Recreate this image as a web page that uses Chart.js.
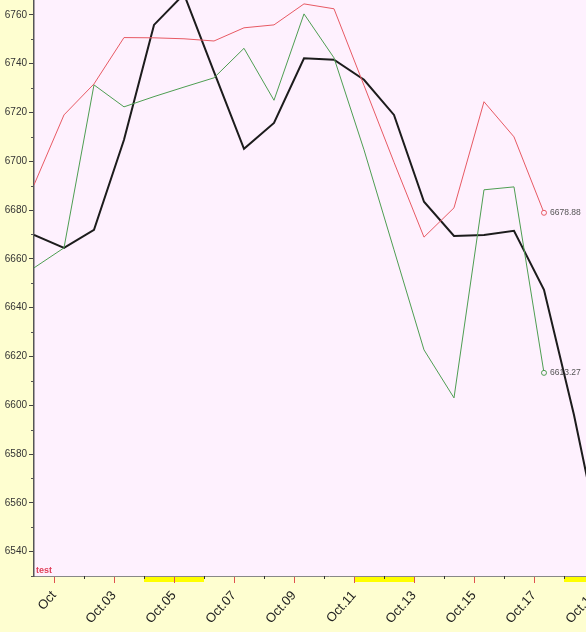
<!DOCTYPE html>
<html>
<head>
<meta charset="utf-8">
<script src="https://cdn.jsdelivr.net/npm/chart.js@4.4.1/dist/chart.umd.min.js"></script>
<style>
  html, body { margin: 0; padding: 0; overflow: hidden; background: #fefed0; width: 586px; height: 632px; }
  canvas { display: block; }
</style>
</head>
<body>
<canvas id="chart" width="624" height="632"></canvas>
<script>
// x positions in days of October (point i sits at day i + 1/3)
const xDays = [0.333, 1.333, 2.333, 3.333, 4.333, 5.333, 6.333, 7.333, 8.333, 9.333,
               10.333, 11.333, 12.333, 13.333, 14.333, 15.333, 16.333, 17.333, 18.333, 19.333];

const redValues   = [6690.3, 6719.0, 6731.7, 6750.7, 6750.6, 6750.2, 6749.3, 6754.7, 6755.9, 6764.5,
                     6762.5, 6731.1, 6699.6, 6668.9, 6680.9, 6724.4, 6710.0, 6678.88];
const greenValues = [6656.3, 6664.5, 6731.3, 6722.3, 6726.5, 6730.4, 6734.2, 6746.3, 6725.0, 6760.4,
                     6742.4, 6704.7, 6663.7, 6622.7, 6603.0, 6688.3, 6689.5, 6613.27];
const blackValues = [6669.8, 6664.5, 6671.9, 6708.8, 6755.9, 6768.5, 6736.6, 6705.1, 6715.7, 6742.2,
                     6741.6, 6733.4, 6719.0, 6683.4, 6669.4, 6669.8, 6671.5, 6647.3, 6596.0, 6537.0];

const xTickDays   = [1, 2, 3, 4, 5, 6, 7, 8, 9, 10, 11, 12, 13, 14, 15, 16, 17, 18, 19, 20];
const xTickLabels = ['Oct', '', 'Oct.03', '', 'Oct.05', '', 'Oct.07', '', 'Oct.09', '', 'Oct.11', '',
                     'Oct.13', '', 'Oct.15', '', 'Oct.17', '', 'Oct.19', ''];
const yTickValues = [6530, 6540, 6550, 6560, 6570, 6580, 6590, 6600, 6610, 6620, 6630, 6640, 6650,
                     6660, 6670, 6680, 6690, 6700, 6710, 6720, 6730, 6740, 6750, 6760];
const yTickLabels = ['', '6540', '', '6560', '', '6580', '', '6600', '', '6620', '', '6640', '',
                     '6660', '', '6680', '', '6700', '', '6720', '', '6740', '', '6760'];
const weekends = [[4, 6], [11, 13], [18, 20]];

const toPoints = vals => vals.map((v, i) => ({ x: xDays[i], y: v }));
const lastDot = n => ctx => ctx.dataIndex === n - 1 ? 2.5 : 0;

const chartDeco = {
    id: 'chartDeco',
    beforeDraw(chart) {
        const { ctx, chartArea: a, scales: { x } } = chart;
        ctx.save();
        ctx.fillStyle = '#fefed0';
        ctx.fillRect(0, 0, chart.width, chart.height);
        ctx.fillStyle = '#fef1fe';
        ctx.fillRect(a.left, a.top, a.right - a.left, a.bottom - a.top);
        ctx.fillStyle = '#ffff00';
        weekends.forEach(([s, e]) => {
            const x0 = x.getPixelForValue(s), x1 = x.getPixelForValue(e);
            ctx.fillRect(x0, a.bottom, x1 - x0, 6);
        });
        ctx.restore();
    },
    afterDraw(chart) {
        const { ctx, chartArea: a, scales: { x, y } } = chart;
        ctx.save();
        // minor ticks
        ctx.lineWidth = 1;
        ctx.strokeStyle = '#333';
        xTickDays.forEach((d, i) => {
            if (xTickLabels[i]) return;
            const px = Math.round(x.getPixelForValue(d)) + 0.5;
            ctx.beginPath(); ctx.moveTo(px, a.bottom); ctx.lineTo(px, a.bottom + 3); ctx.stroke();
        });
        ctx.strokeStyle = '#555';
        yTickValues.forEach((v, i) => {
            if (yTickLabels[i]) return;
            const py = Math.round(y.getPixelForValue(v)) + 0.5;
            ctx.beginPath(); ctx.moveTo(a.left - 3, py); ctx.lineTo(a.left, py); ctx.stroke();
        });
        // corner label
        ctx.fillStyle = '#e0405a';
        ctx.font = 'bold 9px "Liberation Sans", Arial, sans-serif';
        ctx.textBaseline = 'alphabetic';
        ctx.fillText('test', a.left + 2, a.bottom - 3);
        // end value labels
        ctx.fillStyle = '#555';
        ctx.font = '8.5px "Liberation Sans", Arial, sans-serif';
        ctx.textBaseline = 'middle';
        [0, 1].forEach(di => {
            const meta = chart.getDatasetMeta(di);
            const pt = meta.data[meta.data.length - 1];
            const val = chart.data.datasets[di].data[meta.data.length - 1].y;
            ctx.fillText(val.toFixed(2), pt.x + 6, pt.y);
        });
        ctx.restore();
    }
};

new Chart(document.getElementById('chart'), {
    type: 'line',
    data: {
        datasets: [{
            label: 'red',
            data: toPoints(redValues),
            borderColor: '#e85a64',
            borderWidth: 1,
            pointRadius: lastDot(redValues.length),
            pointBorderColor: '#e85a64',
            pointBackgroundColor: '#fef1fe',
            pointBorderWidth: 1
        }, {
            label: 'green',
            data: toPoints(greenValues),
            borderColor: '#4e9e52',
            borderWidth: 1,
            pointRadius: lastDot(greenValues.length),
            pointBorderColor: '#4e9e52',
            pointBackgroundColor: '#fef1fe',
            pointBorderWidth: 1
        }, {
            label: 'black',
            data: toPoints(blackValues),
            borderColor: '#1c1c1c',
            borderWidth: 2,
            pointRadius: 0
        }]
    },
    options: {
        responsive: false,
        animation: false,
        layout: { padding: 0, autoPadding: false },
        elements: { line: { tension: 0 } },
        plugins: { legend: { display: false }, tooltip: { enabled: false } },
        scales: {
            x: {
                type: 'linear',
                min: xDays[0],
                max: 20,
                afterBuildTicks: s => { s.ticks = xTickDays.map(v => ({ value: v })); },
                afterFit: s => { s.height = 56; s.paddingLeft = 0; s.paddingRight = 0; },
                border: { color: '#888', width: 1 },
                grid: {
                    drawOnChartArea: false,
                    tickLength: 7,
                    color: ctx => (ctx.tick && xTickLabels[xTickDays.indexOf(ctx.tick.value)]) ? '#e05050' : 'transparent'
                },
                ticks: {
                    autoSkip: false,
                    minRotation: 48,
                    maxRotation: 48,
                    padding: 5,
                    color: '#222',
                    font: { family: '"Liberation Sans", Arial, sans-serif', size: 13 },
                    callback: (v) => xTickLabels[xTickDays.indexOf(v)] || ''
                }
            },
            y: {
                min: 6530,
                max: 6766.1,
                afterBuildTicks: s => { s.ticks = yTickValues.map(v => ({ value: v })); },
                afterFit: s => { s.width = 34; s.paddingTop = 0; s.paddingBottom = 0; },
                border: { color: '#555', width: 1.5 },
                grid: {
                    drawOnChartArea: false,
                    tickLength: 5,
                    color: ctx => (ctx.tick && yTickLabels[yTickValues.indexOf(ctx.tick.value)]) ? '#444' : 'transparent'
                },
                ticks: {
                    autoSkip: false,
                    padding: 2,
                    color: '#333',
                    font: { family: '"Liberation Sans", Arial, sans-serif', size: 10 },
                    callback: (v) => yTickLabels[yTickValues.indexOf(v)] || ''
                }
            }
        }
    },
    plugins: [chartDeco]
});
</script>
</body>
</html>
